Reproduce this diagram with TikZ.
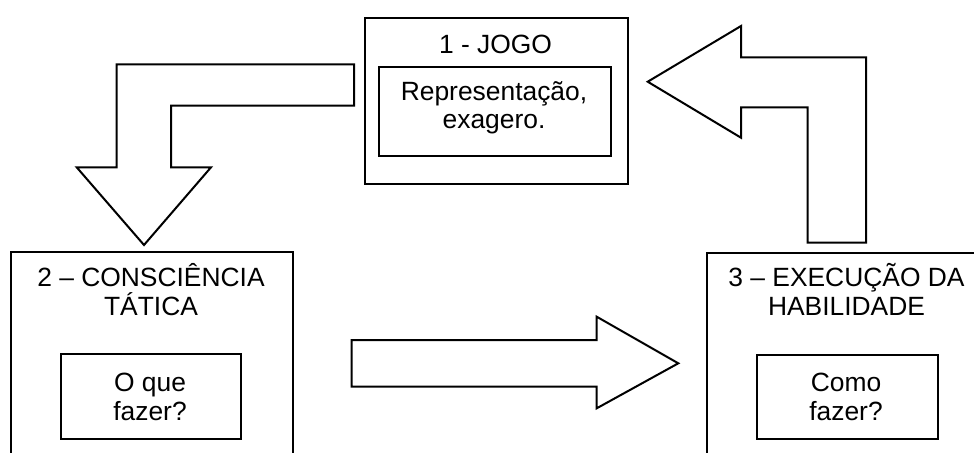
\documentclass[tikz,border=0pt]{standalone}
\usepackage{fontspec}
\setmainfont{Liberation Sans}
\begin{document}
\begin{tikzpicture}[x=0.5pt,y=-0.5pt,
  box/.style={draw, line width=1pt, inner sep=0pt, anchor=north west},
  lbl/.style={font=\fontsize{13.2}{14.15}\selectfont, align=center, inner sep=0pt, anchor=base},
  blockarrow/.style={draw, line width=1pt, line join=miter, fill=white}]
\useasboundingbox (0,0) rectangle (974,452);
\clip (0,0) rectangle (974,452);
% box 1
\node[box, minimum width=131.5pt, minimum height=83pt] (b1) at (364,17) {};
\node[box, minimum width=116pt, minimum height=44.5pt] (i1) at (378,66) {};
\node[lbl] (t1) at (495.5,53.3) {1 - JOGO};
\node[lbl] (x1) at (494,128.3) {Representação,\\exagero.};
% box 2
\node[box, minimum width=141pt, minimum height=115pt] (b2) at (10,251) {};
\node[box, minimum width=90pt, minimum height=42.25pt] (i2) at (60,353) {};
\node[lbl] (t2) at (151,315) {2 – CONSCIÊNCIA\\TÁTICA};
\node[lbl] (x2) at (150,420) {O que\\fazer?};
% box 3
\node[box, minimum width=140pt, minimum height=115pt] (b3) at (706,252) {};
\node[box, minimum width=90.25pt, minimum height=42.1pt] (i3) at (756,353.5) {};
\node[lbl] (t3) at (846.5,315) {3 – EXECUÇÃO DA\\HABILIDADE};
\node[lbl] (x3) at (846,420) {Como\\fazer?};
% block arrows
\draw[blockarrow] (354,64.3) -- (116.7,64.3) -- (116.7,167.3) -- (76.7,167.3)
  -- (144,245) -- (211,167.3) -- (171,167.3) -- (171,105.7) -- (354,105.7) -- cycle;
\draw[blockarrow] (866,242.7) -- (866,57.3) -- (741,57.3) -- (741,26) -- (647.7,81.7)
  -- (741,137.7) -- (741,107.3) -- (807.7,107.3) -- (807.7,242.7) -- cycle;
\draw[blockarrow] (351.7,340) -- (596.7,340) -- (596.7,316.7) -- (678.3,363.3)
  -- (596.7,408.3) -- (596.7,386.7) -- (351.7,386.7) -- cycle;
\end{tikzpicture}
\end{document}
